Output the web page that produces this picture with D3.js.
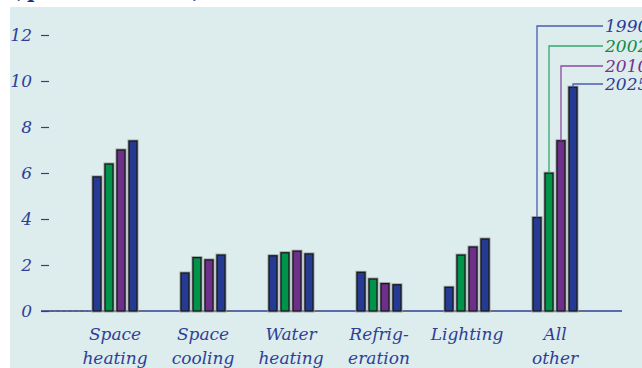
<!DOCTYPE html>
<html>
<head>
<meta charset="utf-8">
<script src="https://cdn.jsdelivr.net/npm/d3@7"></script>
<style>
  html, body { margin: 0; padding: 0; background: #fff; }
  svg { display: block; }
  text { font-family: "DejaVu Serif", serif; font-style: italic; }
</style>
</head>
<body>
<div id="chart"></div>
<script>
// end-use categories and projection years
var categories = ["Space heating", "Space cooling", "Water heating", "Refrigeration", "Lighting", "All other"];
var catLines = [["Space", "heating"], ["Space", "cooling"], ["Water", "heating"], ["Refrig-", "eration"], ["Lighting"], ["All", "other"]];
var years = ["1990", "2002", "2010", "2025"];

// quadrillion Btu
var v1990 = [5.83, 1.65, 2.40, 1.68, 1.03, 4.06];
var v2002 = [6.39, 2.32, 2.53, 1.39, 2.43, 5.99];
var v2010 = [7.00, 2.22, 2.60, 1.19, 2.78, 7.40];
var v2025 = [7.39, 2.43, 2.48, 1.14, 3.13, 9.73];

var yTicks = [0, 2, 4, 6, 8, 10, 12];

var series = [v1990, v2002, v2010, v2025];
var fills = ["#253a93", "#00934a", "#6d2f8a", "#253a93"];
var lineCols = ["#4a5cae", "#34a86c", "#8a4aa2", "#4a5cae"];
var textCols = ["#2e3a9a", "#0f8a46", "#7a2f8f", "#2e3a9a"];
var ink = "#2e3f98";

var width = 642, height = 368;

var svg = d3.select("#chart").append("svg")
  .attr("width", width)
  .attr("height", height);

// panel background
svg.append("rect")
  .attr("x", 10).attr("y", 7)
  .attr("width", width - 10).attr("height", height - 7)
  .attr("fill", "#ddecec");

// title, mostly cut off at the top (only descenders show)
svg.append("text")
  .attr("x", 11).attr("y", -2)
  .attr("fill", "#1f2f80")
  .style("font-style", "normal")
  .style("font-weight", "bold")
  .style("font-size", "20px")
  .text("(quadrillion Btu)");

// cover the title where the panel starts
svg.append("rect")
  .attr("x", 10).attr("y", 7)
  .attr("width", width - 10).attr("height", 4)
  .attr("fill", "#ddecec");

var y = d3.scaleLinear().domain([0, 12]).range([311, 35]);

var x = d3.scaleBand().domain(categories).range([71, 599]).padding(0);
var xi = d3.scaleBand().domain(years).range([22, 66]).paddingInner(1 / 3);

// y axis
var yAxis = d3.axisLeft(y)
  .tickValues(yTicks)
  .tickSize(8)
  .tickPadding(9)
  .tickFormat(d3.format("d"));

var ga = svg.append("g")
  .attr("transform", "translate(49,0)")
  .call(yAxis);
ga.select(".domain").remove();
ga.selectAll(".tick line").attr("stroke", ink).attr("stroke-width", 1.2);
ga.selectAll(".tick text")
  .attr("fill", ink)
  .style("font-size", "17px")
  .style("font-family", "'DejaVu Serif', serif")
  .style("font-style", "italic");

// baseline
svg.append("line")
  .attr("x1", 41).attr("x2", 622)
  .attr("y1", y(0)).attr("y2", y(0))
  .attr("stroke", ink).attr("stroke-width", 1.5);

svg.append("line")
  .attr("x1", 50).attr("x2", 88)
  .attr("y1", y(0)).attr("y2", y(0))
  .attr("stroke", "#5a6070").attr("stroke-width", 1.5)
  .attr("stroke-dasharray", "4,2");

// bars
var groups = svg.selectAll("g.grp")
  .data(categories)
  .enter().append("g")
  .attr("class", "grp")
  .attr("transform", function (d) { return "translate(" + x(d) + ",0)"; });

groups.append("line")
  .attr("x1", xi("2025") + xi.bandwidth())
  .attr("x2", xi("2025") + xi.bandwidth() + 8)
  .attr("y1", y(0)).attr("y2", y(0))
  .attr("stroke", "#6a6f7a").attr("stroke-width", 1.5);

groups.each(function (c, ci) {
  var g = d3.select(this);
  years.forEach(function (yr, si) {
    var v = series[si][ci];
    // soft grey halo
    g.append("rect")
      .attr("x", xi(yr))
      .attr("y", y(v))
      .attr("width", xi.bandwidth())
      .attr("height", y(0) - y(v))
      .attr("fill", "none")
      .attr("stroke", "#9aa0a4")
      .attr("stroke-width", 3);
    g.append("rect")
      .attr("x", xi(yr))
      .attr("y", y(v))
      .attr("width", xi.bandwidth())
      .attr("height", y(0) - y(v))
      .attr("fill", fills[si])
      .attr("stroke", "#1a1a1a")
      .attr("stroke-width", 1.3);
  });
});

// category labels
var lab = svg.selectAll("text.cat")
  .data(catLines)
  .enter().append("text")
  .attr("class", "cat")
  .attr("text-anchor", "middle")
  .attr("fill", ink)
  .style("font-size", "17px")
  .attr("x", function (d, i) { return x(categories[i]) + x.bandwidth() / 2; });

lab.selectAll("tspan")
  .data(function (d) { return d; })
  .enter().append("tspan")
  .attr("x", function () { return d3.select(this.parentNode).attr("x"); })
  .attr("y", function (d, i) { return 340 + i * 24; })
  .text(function (d) { return d; });

// legend leaders on the "All other" group
var legY = [26, 46, 66, 84];
var last = categories[categories.length - 1];
years.forEach(function (yr, si) {
  var cx = x(last) + xi(yr) + xi.bandwidth() / 2;
  var top = y(series[si][categories.length - 1]);
  svg.append("path")
    .attr("d", "M" + cx + "," + top + "V" + legY[si] + "H603")
    .attr("fill", "none")
    .attr("stroke", lineCols[si])
    .attr("stroke-width", 1.3);
  svg.append("text")
    .attr("x", 605)
    .attr("y", legY[si] + 6)
    .attr("fill", textCols[si])
    .style("font-size", "17px")
    .text(yr);
});
</script>
</body>
</html>
